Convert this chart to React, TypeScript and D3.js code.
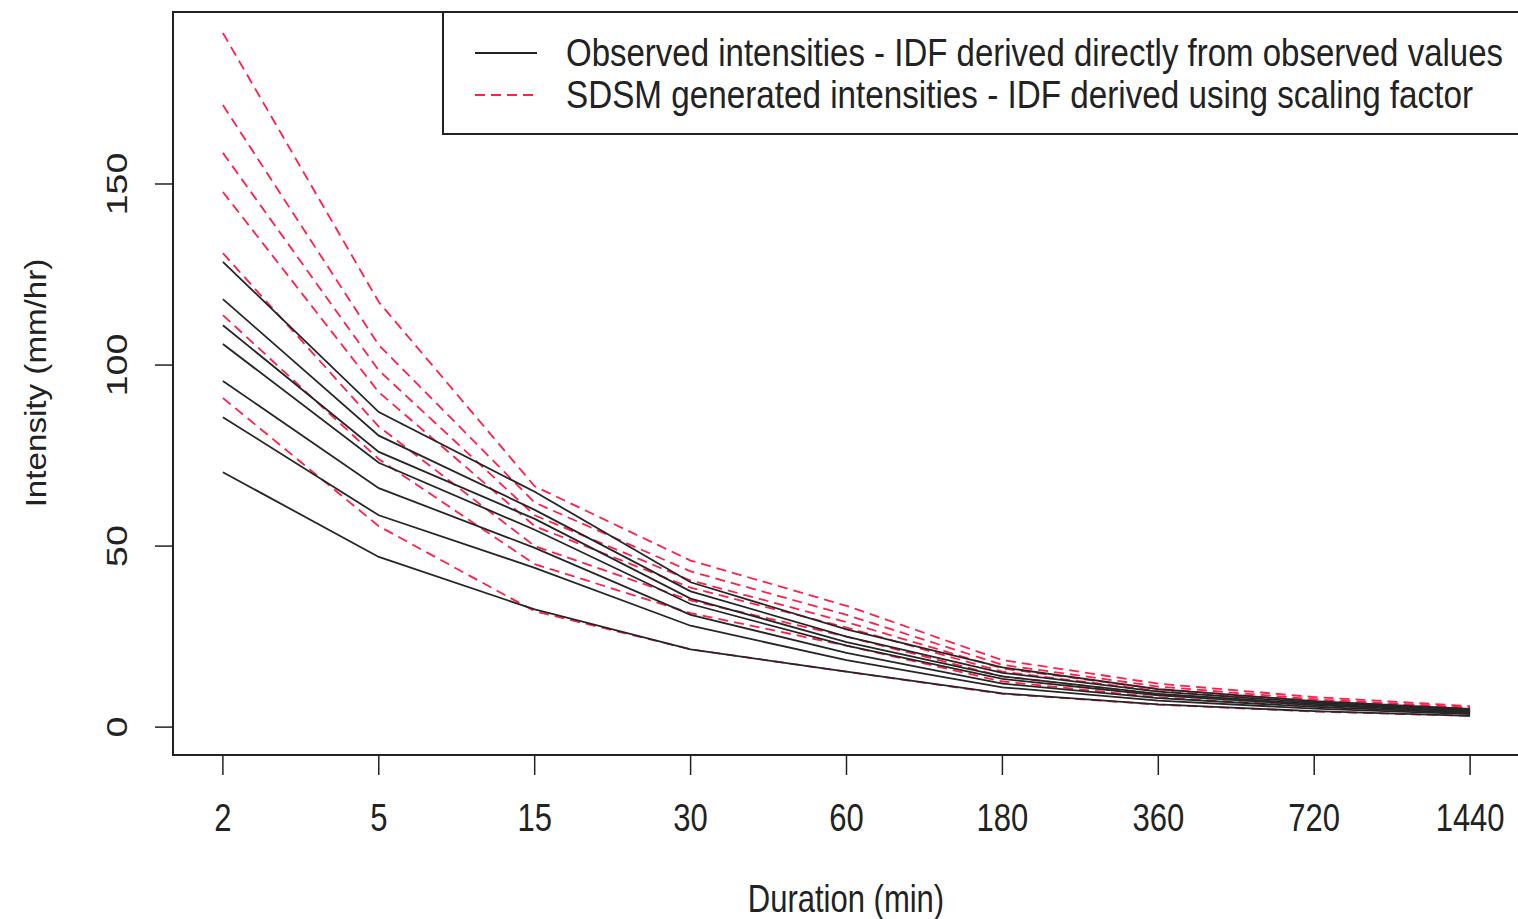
import React from "react";
import * as d3 from "d3";

const durations = ["2", "5", "15", "30", "60", "180", "360", "720", "1440"];
const yTicks = [0, 50, 100, 150];

// Observed intensities (mm/hr), one array per return period
const obs1 = [128.5, 87, 65, 40, 27, 16.5, 10.5, 7.2, 5];
const obs2 = [118.2, 80.5, 60, 37.5, 25, 15, 9.8, 6.8, 4.7];
const obs3 = [111, 76, 57.5, 35.5, 23.5, 14, 9.2, 6.4, 4.4];
const obs4 = [105.8, 73, 54.5, 34, 22.5, 13.3, 8.8, 6.1, 4.2];
const obs5 = [95.6, 66, 49.5, 31, 20.5, 12, 8, 5.6, 3.9];
const obs6 = [85.6, 58.5, 44, 28, 18.5, 11, 7.3, 5.1, 3.6];
const obs7 = [70.4, 47, 32.5, 21.5, 15.3, 9.3, 6.3, 4.4, 3.1];

// SDSM generated intensities (mm/hr)
const sdsm1 = [191.7, 117.4, 66.5, 46, 33.5, 18.5, 12, 8.3, 5.8];
const sdsm2 = [171.8, 105.5, 62, 43, 31, 17.2, 11.2, 7.7, 5.4];
const sdsm3 = [158.6, 98.5, 58.5, 40.5, 29, 16.2, 10.5, 7.3, 5.1];
const sdsm4 = [147.8, 92.5, 55.5, 38.5, 27.5, 15.3, 10, 6.9, 4.8];
const sdsm5 = [130.9, 83, 50, 35, 25, 14, 9.1, 6.3, 4.4];
const sdsm6 = [113.8, 74, 45, 31.5, 22.5, 12.6, 8.2, 5.7, 4.0];
const sdsm7 = [90.9, 55.5, 32, 21.5, 15.3, 9.2, 6.2, 4.3, 3.1];

const observed = [obs1, obs2, obs3, obs4, obs5, obs6, obs7];
const sdsm = [sdsm1, sdsm2, sdsm3, sdsm4, sdsm5, sdsm6, sdsm7];

const legendLabels = [
  "Observed intensities - IDF derived directly from observed values",
  "SDSM generated intensities - IDF derived using scaling factor",
];

const W = 1518;
const H = 919;
const left = 173, right = 1520, top = 12, bottom = 755;
const FONT = "'Liberation Sans', Arial, sans-serif";
const RED = "#ff1f4a";

export default function App() {
  const x = d3.scaleLinear().domain([0.68, 9.32]).range([left, right]);
  const y = d3.scaleLinear().domain([-7.7, 197.5]).range([bottom, top]);
  const line = d3
    .line<number>()
    .x((_, i) => x(i + 1))
    .y((d) => y(d));

  return (
    <svg
      width={W}
      height={H}
      style={{ position: "absolute", left: 0, top: 0, background: "#fff" }}
    >
      <rect x={0} y={0} width={W} height={H} fill="#fff" />
      {sdsm.map((s, i) => (
        <path
          key={"s" + i}
          d={line(s) || ""}
          fill="none"
          stroke={RED}
          strokeWidth={1.8}
          strokeDasharray="10,6"
        />
      ))}
      {observed.map((s, i) => (
        <path
          key={"o" + i}
          d={line(s) || ""}
          fill="none"
          stroke="#262626"
          strokeWidth={1.8}
        />
      ))}
      <rect
        x={left}
        y={top}
        width={right - left}
        height={bottom - top}
        fill="none"
        stroke="#222"
        strokeWidth={2}
      />
      {durations.map((d, i) => (
        <g key={"xt" + i}>
          <line x1={x(i + 1)} x2={x(i + 1)} y1={bottom} y2={bottom + 20} stroke="#222" strokeWidth={1.5} />
          <text
            transform={`translate(${x(i + 1)},831) scale(1,1.25)`}
            textAnchor="middle"
            fontFamily={FONT}
            fontSize={31}
            fill="#222"
          >
            {d}
          </text>
        </g>
      ))}
      {yTicks.map((t) => (
        <g key={"yt" + t}>
          <line x1={left} x2={left - 18} y1={y(t)} y2={y(t)} stroke="#222" strokeWidth={1.5} />
          <text
            transform={`translate(127,${y(t)}) scale(1,1.25) rotate(-90)`}
            textAnchor="middle"
            fontFamily={FONT}
            fontSize={30}
            fill="#222"
          >
            {t}
          </text>
        </g>
      ))}
      <text
        transform={`translate(846,912) scale(1,1.25)`}
        textAnchor="middle"
        fontFamily={FONT}
        fontSize={31}
        fill="#222"
      >
        Duration (min)
      </text>
      <text
        transform={`translate(46,383) scale(1,1.25) rotate(-90)`}
        textAnchor="middle"
        fontFamily={FONT}
        fontSize={29}
        fill="#222"
        textLength={199}
        lengthAdjust="spacingAndGlyphs"
      >
        Intensity (mm/hr)
      </text>
      <rect x={443} y={top} width={1520 - 443} height={134 - top} fill="#fff" stroke="#222" strokeWidth={2} />
      <line x1={475} x2={537} y1={53} y2={53} stroke="#222" strokeWidth={1.8} />
      <line x1={475} x2={537} y1={95} y2={95} stroke={RED} strokeWidth={1.8} strokeDasharray="10,6" />
      <text
        transform="translate(566,66) scale(1,1.25)"
        fontFamily={FONT}
        fontSize={31}
        fill="#222"
        textLength={937}
        lengthAdjust="spacingAndGlyphs"
      >
        {legendLabels[0]}
      </text>
      <text
        transform="translate(566,108) scale(1,1.25)"
        fontFamily={FONT}
        fontSize={31}
        fill="#222"
        textLength={907}
        lengthAdjust="spacingAndGlyphs"
      >
        {legendLabels[1]}
      </text>
    </svg>
  );
}
